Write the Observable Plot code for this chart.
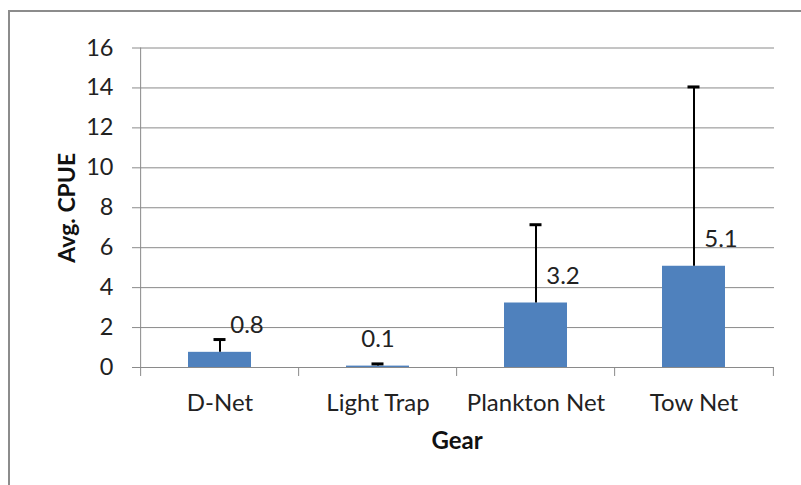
<!DOCTYPE html>
<html><head><meta charset="utf-8">
<script src="https://cdn.jsdelivr.net/npm/d3@7"></script>
<script src="https://cdn.jsdelivr.net/npm/@observablehq/plot@0.6"></script>
<style>
body{margin:0;background:#fff;}
#wrap{position:relative;width:801px;height:485px;overflow:hidden;background:#fff;}
#border{position:absolute;left:8px;top:10px;width:900px;height:600px;border:2px solid #8c8c8c;}
#chart{position:absolute;left:0;top:0;}
</style></head><body>
<div id="wrap"><div id="border"></div><div id="chart"></div></div>
<script>
const gears = ["D-Net", "Light Trap", "Plankton Net", "Tow Net"];
const avgCpue = [0.76, 0.07, 3.23, 5.07];
const errorTop = [1.4, 0.18, 7.15, 14.05];
const yTicks = [0, 2, 4, 6, 8, 10, 12, 14, 16];

const data = gears.map((g, i) => ({gear: g, value: avgCpue[i], hi: errorTop[i], label: avgCpue[i].toFixed(1)}));

const W = 801, H = 485, mL = 139, mR = 27, mT = 47.5, mB = 118;
const half = (W - mL - mR) / gears.length / 2;
const grid = "#8a8a8a";
const font = "Lato, 'Open Sans', sans-serif";

const chart = Plot.plot({
  width: W, height: H,
  marginLeft: mL, marginRight: mR, marginTop: mT, marginBottom: mB,
  style: {fontFamily: font, background: "transparent", overflow: "visible"},
  x: {domain: gears, paddingInner: 0.6, paddingOuter: 0.3},
  y: {domain: [0, 16]},
  marks: [
    Plot.ruleY(yTicks, {stroke: grid, strokeWidth: 1}),
    Plot.axisY({ticks: yTicks, tickSize: 7, tickPadding: 19, stroke: grid, fontSize: 23.5, fill: "#222", label: null}),
    Plot.axisX({tickSize: 0, tickPadding: 26, fontSize: 24, fill: "#222", label: null}),
    Plot.ruleX([gears[0]], {x: d => d, y1: 0, y2: 16, dx: -half, stroke: grid}),
    Plot.ruleX(gears, {x: d => d, y1: 0, y2: -0.45, dx: -half, stroke: grid}),
    Plot.ruleX([gears[gears.length - 1]], {x: d => d, y1: 0, y2: -0.45, dx: half, stroke: grid}),
    Plot.barY(data, {x: "gear", y: "value", fill: "#4F81BD"}),
    Plot.ruleY([0], {stroke: grid}),
    Plot.ruleX(data, {x: "gear", y1: "value", y2: "hi", stroke: "#000", strokeWidth: 2}),
    Plot.tickY(data, {x: "gear", y: "hi", stroke: "#000", strokeWidth: 3, inset: 25.5}),
    Plot.text(data.filter(d => d.gear !== "Light Trap"), {x: "gear", y: "value", text: "label", dx: 27, dy: -27, fontSize: 24, fill: "#222"}),
    Plot.text(data.filter(d => d.gear === "Light Trap"), {x: "gear", y: "value", text: "label", dy: -27, fontSize: 24, fill: "#222"}),
    Plot.text(["Avg. CPUE"], {frameAnchor: "left", textAnchor: "middle", lineAnchor: "middle", rotate: -90, dx: -72, fontSize: 23, fontWeight: "bold", fill: "#111"}),
    Plot.text(["Gear"], {frameAnchor: "bottom", textAnchor: "middle", lineAnchor: "middle", dy: 74, fontSize: 24, fontWeight: "bold", fill: "#111"})
  ]
});
document.getElementById("chart").append(chart);
</script>
</body></html>
